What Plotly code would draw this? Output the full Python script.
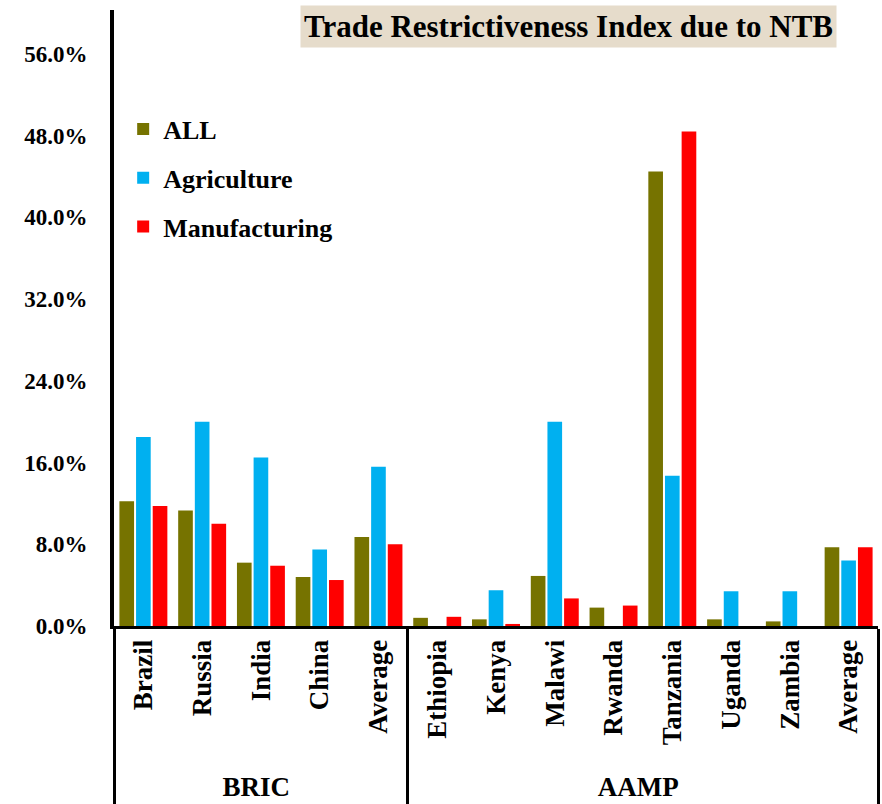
import plotly.graph_objects as go

groups = ["BRIC"] * 5 + ["AAMP"] * 8
countries = ["Brazil", "Russia", "India", "China", "Average",
             "Ethiopia", "Kenya", "Malawi", "Rwanda", "Tanzania", "Uganda", "Zambia", "Average\u200b"]

all_vals = [12.2, 11.3, 6.2, 4.8, 8.7, 0.8, 0.65, 4.9, 1.8, 44.5, 0.65, 0.45, 7.7]
agri_vals = [18.5, 20.0, 16.5, 7.5, 15.6, 0.0, 3.5, 20.0, 0.0, 14.7, 3.4, 3.4, 6.4]
manu_vals = [11.75, 10.0, 5.9, 4.5, 8.0, 0.9, 0.2, 2.7, 2.0, 48.4, 0.0, 0.0, 7.7]

y_ticks = [0, 8, 16, 24, 32, 40, 48, 56]
y_ticktext = [f"{v:.1f}%" for v in y_ticks]

series = [("ALL", all_vals, "#767300"),
          ("Agriculture", agri_vals, "#00B0F0"),
          ("Manufacturing", manu_vals, "#FF0000")]

font_family = "Liberation Serif, Times New Roman, serif"

fig = go.Figure()
for name, vals, color in series:
    fig.add_trace(go.Bar(
        name=name, x=[groups, countries], y=vals,
        marker=dict(color=color, line=dict(width=0)),
        legendgroup=name,
    ))

fig.update_layout(
    width=882, height=804,
    margin=dict(l=114, r=4, t=10, b=178, autoexpand=False),
    plot_bgcolor="white", paper_bgcolor="white",
    barmode="group", bargap=0.15, bargroupgap=0.12,
    font=dict(family=font_family, size=22, color="black", weight="bold"),
    legend=dict(x=0.012, y=0.845, xanchor="left", yanchor="top",
                bgcolor="rgba(0,0,0,0)", traceorder="grouped", tracegroupgap=12,
                font=dict(size=26, family=font_family, weight="bold")),
    showlegend=True,
)

fig.update_yaxes(
    range=[0, 60.3], tickvals=y_ticks, ticktext=y_ticktext,
    showgrid=False, zeroline=False,
    showline=True, linewidth=4, linecolor="black", ticks="",
    ticklabelstandoff=18,
    tickfont=dict(size=23, family=font_family, weight="bold"),
)

fig.update_xaxes(
    type="multicategory", showline=True, linewidth=3, linecolor="black",
    showgrid=False, tickangle=-90, ticks="",
    tickfont=dict(size=27, family=font_family, weight="bold"),
    showdividers=True, dividercolor="black", dividerwidth=3,
)

fig.add_annotation(
    text="Trade Restrictiveness Index due to NTB",
    xref="paper", yref="paper", x=0.5955, y=1.0, xanchor="center", yanchor="top",
    yshift=5, showarrow=False,
    font=dict(size=31, family=font_family, weight="bold", color="black"),
    bgcolor="#E6DCCB", borderpad=3,
)

fig.write_html("out.html", config={"displayModeBar": False},
               post_script="document.body.style.margin='0';")
